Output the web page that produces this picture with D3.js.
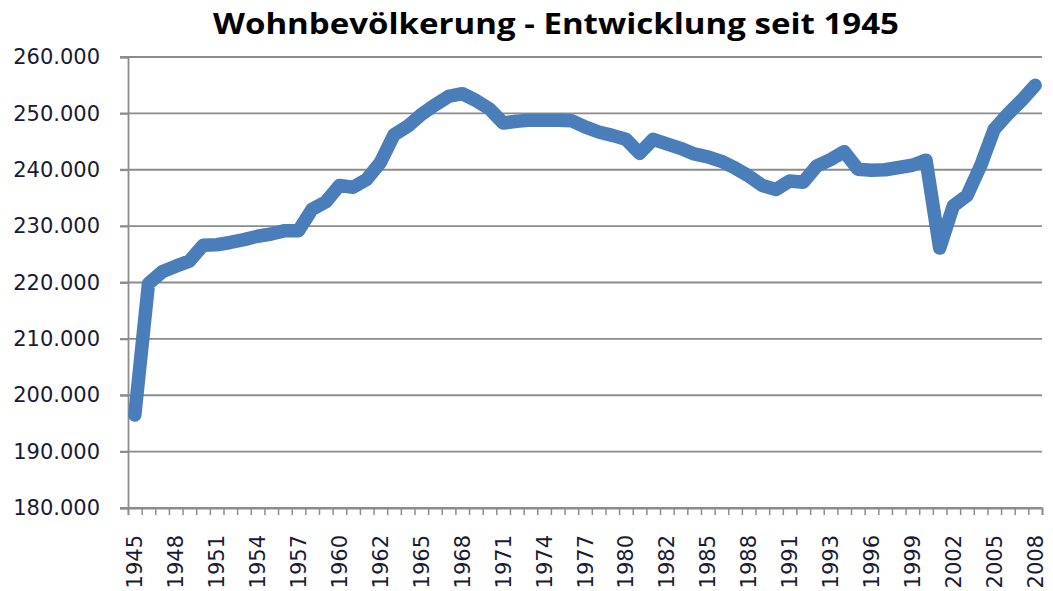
<!DOCTYPE html>
<html>
<head>
<meta charset="utf-8">
<script src="https://cdn.jsdelivr.net/npm/d3@7"></script>
<style>
  body { margin: 0; background: #fff; }
  svg { display: block; }
</style>
</head>
<body>
<div id="chart"></div>
<script>
const width = 1053;
const height = 591;

// Jahre (Volkszählungsjahre kommen doppelt vor)
const years = [
  1945, 1946, 1947, 1948, 1949, 1950, 1951, 1952, 1953, 1954,
  1955, 1956, 1957, 1958, 1959, 1960, 1961, 1961, 1962, 1963,
  1964, 1965, 1966, 1967, 1968, 1969, 1970, 1971, 1972, 1973,
  1974, 1975, 1976, 1977, 1978, 1979, 1980, 1981, 1981, 1982,
  1983, 1984, 1985, 1986, 1987, 1988, 1989, 1990, 1991, 1991,
  1992, 1993, 1994, 1995, 1996, 1997, 1998, 1999, 2000, 2001,
  2002, 2003, 2004, 2005, 2006, 2007, 2008
];

// Wohnbevölkerung
const population = [
  196500, 219800, 221900, 222900, 223800, 226600, 226700, 227100, 227600, 228200,
  228600, 229200, 229200, 233000, 234300, 237200, 236900, 238300, 241300, 246200,
  247700, 249800, 251500, 253000, 253500, 252300, 250800, 248300, 248600, 248800,
  248800, 248800, 248700, 247600, 246700, 246100, 245400, 242900, 245400, 244600,
  243800, 242800, 242300, 241500, 240300, 238900, 237200, 236500, 238000, 237800,
  240700, 241800, 243200, 240100, 239900, 240000, 240400, 240800, 241700, 226100,
  233600, 235400, 240700, 247200, 249900, 252300, 255000
];

const yTicks = [180000, 190000, 200000, 210000, 220000, 230000, 240000, 250000, 260000];

const title = "Wohnbevölkerung - Entwicklung seit 1945";

const plotLeft = 128, plotRight = 1042, plotTop = 57, plotBottom = 508;

const svg = d3.select("#chart")
  .append("svg")
  .attr("width", width)
  .attr("height", height);

const x = d3.scaleBand()
  .domain(d3.range(years.length))
  .range([plotLeft, plotRight]);

const y = d3.scaleLinear()
  .domain([180000, 260000])
  .range([plotBottom, plotTop]);

const de = d3.formatLocale({ decimal: ",", thousands: ".", grouping: [3], currency: ["", " €"] });
const fmt = de.format(",.0f");

// Gitterlinien
svg.append("g")
  .selectAll("line")
  .data(yTicks)
  .join("line")
  .attr("x1", plotLeft - 8)
  .attr("x2", plotRight)
  .attr("y1", d => y(d))
  .attr("y2", d => y(d))
  .attr("stroke", "#8c8c8c")
  .attr("stroke-width", 1.8);

// y-Achse
const yAxis = svg.append("g")
  .attr("transform", `translate(${plotLeft},0)`)
  .call(d3.axisLeft(y).tickValues(yTicks).tickFormat(fmt).tickSize(8).tickPadding(20));
yAxis.select(".domain").attr("stroke", "#8c8c8c").attr("stroke-width", 1.8);
yAxis.selectAll(".tick line").attr("stroke", "#8c8c8c").attr("stroke-width", 1.8);
yAxis.selectAll("text")
  .attr("fill", "#1a1a33")
  .style("font-family", "DejaVu Sans")
  .style("font-size", "21px");

// x-Achse: Teilstriche an den Kategoriegrenzen
const xEdge = d3.scaleLinear().domain([0, years.length]).range([plotLeft, plotRight]);
const xTicks = svg.append("g")
  .attr("transform", `translate(0,${plotBottom})`)
  .call(d3.axisBottom(xEdge).tickValues(d3.range(years.length + 1)).tickFormat("").tickSize(7));
xTicks.select(".domain").attr("stroke", "#8c8c8c").attr("stroke-width", 1.8);
xTicks.selectAll(".tick line").attr("stroke", "#8c8c8c").attr("stroke-width", 1.5);

// x-Beschriftung, jede dritte Kategorie
const xLabels = svg.append("g")
  .attr("transform", `translate(0,${plotBottom})`)
  .call(d3.axisBottom(x)
    .tickValues(d3.range(0, years.length, 3))
    .tickFormat(i => years[i])
    .tickSize(0));
xLabels.select(".domain").remove();
xLabels.selectAll("text")
  .attr("fill", "#1a1a33")
  .style("font-family", "DejaVu Sans")
  .style("font-size", "21px")
  .attr("text-anchor", "end")
  .attr("transform", "rotate(-90)")
  .attr("x", -27)
  .attr("y", 0)
  .attr("dy", "0.36em");

// Linie
const line = d3.line()
  .x((d, i) => x(i) + x.bandwidth() / 2)
  .y(d => y(d));

svg.append("path")
  .datum(population)
  .attr("fill", "none")
  .attr("stroke", "#4a7ebb")
  .attr("stroke-width", 13.5)
  .attr("stroke-linejoin", "round")
  .attr("stroke-linecap", "round")
  .attr("d", line);

// Titel
svg.append("text")
  .attr("x", 556)
  .attr("y", 34)
  .attr("text-anchor", "middle")
  .attr("textLength", 686)
  .attr("lengthAdjust", "spacingAndGlyphs")
  .style("font-family", "Open Sans")
  .style("font-weight", "bold")
  .style("font-size", "28px")
  .attr("fill", "#000")
  .text(title);
</script>
</body>
</html>
